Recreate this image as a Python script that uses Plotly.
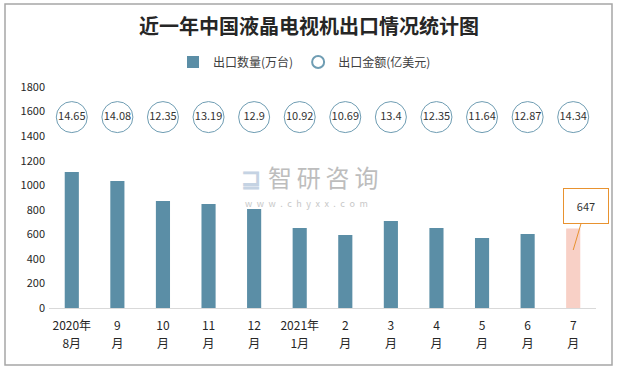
import plotly.graph_objects as go

months = ["2020年8月", "9月", "10月", "11月", "12月", "2021年1月",
          "2月", "3月", "4月", "5月", "6月", "7月"]
tick_line1 = ["2020年", "9", "10", "11", "12", "2021年", "2", "3", "4", "5", "6", "7"]
tick_line2 = ["8月", "月", "月", "月", "月", "1月", "月", "月", "月", "月", "月", "月"]
quantity = [1108, 1035, 872, 848, 806, 652, 594, 708, 652, 570, 602, 647]
amount = [14.65, 14.08, 12.35, 13.19, 12.9, 10.92, 10.69, 13.4, 12.35, 11.64, 12.87, 14.34]
y_ticks = [0, 200, 400, 600, 800, 1000, 1200, 1400, 1600, 1800]

BUBBLE_LEVEL = 1555
FONT = "Noto Sans CJK SC"
bar_colors = ["#5b8ea6"] * (len(months) - 1) + ["#f8d0c6"]

fig = go.Figure()
fig.add_trace(go.Bar(
    x=months, y=quantity, name="出口数量(万台)",
    marker=dict(color=bar_colors, line=dict(width=0)),
))
fig.add_trace(go.Scatter(
    x=months, y=[BUBBLE_LEVEL] * len(months), name="出口金额(亿美元)",
    mode="markers+text",
    text=[f"{v:g}" for v in amount],
    textposition="middle center",
    textfont=dict(size=11, color="#333333", family=FONT),
    marker=dict(size=31, color="white", line=dict(color="#6f9db3", width=1)),
))
# invisible carrier for the second tick-label line axis
fig.add_trace(go.Scatter(
    x=months, y=[None] * len(months), xaxis="x2", mode="markers",
    showlegend=False, hoverinfo="skip",
))

last = months[-1]
fig.add_annotation(
    x=last, y=quantity[-1] * 0.73, xref="x", yref="y",
    text="647", showarrow=True, arrowhead=0, arrowwidth=1, arrowcolor="#e8922f",
    ax=13, ay=-44, width=42, height=32,
    bordercolor="#e8922f", borderwidth=1, bgcolor="white",
    font=dict(size=11, color="#333333", family=FONT),
)

# watermark
fig.add_annotation(
    x=0.5, y=0.593, xref="paper", yref="paper", showarrow=False,
    text="智\u2009研\u2009咨\u2009询", font=dict(size=24, color="#bdbdbd", family=FONT),
    xanchor="center", yanchor="middle", xshift=0,
)
fig.add_annotation(
    x=0.5, y=0.475, xref="paper", yref="paper", showarrow=False,
    text="\u2002".join("www.chyxx.com"), font=dict(size=9, color="#c8c8c8", family=FONT),
    xanchor="center", yanchor="middle", xshift=-16,
)
fig.add_annotation(
    x=0.5, y=0.593, xref="paper", yref="paper", showarrow=False,
    text="<b>⊒</b>", font=dict(size=24, color="#c5d3e3", family=FONT),
    xanchor="center", yanchor="middle", xshift=-72,
)

# outer border
fig.add_shape(type="rect", xref="paper", yref="paper",
              x0=-44 / 547, x1=1 + 16 / 547, y0=-57 / 221, y1=1 + 83 / 221,
              line=dict(color="#a6a6a6", width=1.5), fillcolor="rgba(0,0,0,0)", layer="below")

tickfont = dict(size=12, color="#262626", family=FONT)
fig.update_layout(
    width=618, height=369,
    margin=dict(l=49, r=22, t=87, b=61, autoexpand=False),
    paper_bgcolor="white", plot_bgcolor="white",
    font=dict(family=FONT, color="#404040"),
    title=dict(text="<b>近一年中国液晶电视机出口情况统计图</b>", x=0.5, xanchor="center",
               y=1 - 27 / 369, yanchor="middle",
               font=dict(size=20, color="#262626", family=FONT)),
    showlegend=True,
    legend=dict(orientation="h", x=0.5 - 18 / 547, xanchor="center", y=1.113, yanchor="middle",
                font=dict(size=12, color="#404040", family=FONT),
                itemsizing="constant", itemwidth=30, bgcolor="rgba(0,0,0,0)"),
    bargap=0.69,
    xaxis=dict(showgrid=False, showline=True, linecolor="#d9d9d9", linewidth=1,
               ticks="", automargin=False, range=[-0.5, len(months) - 0.5],
               tickvals=months, ticktext=tick_line1,
               ticklabelstandoff=7, tickfont=tickfont),
    xaxis2=dict(overlaying="x", matches="x", anchor="y", side="bottom",
                showgrid=False, showline=False, zeroline=False, ticks="",
                automargin=False, tickvals=months, ticktext=tick_line2,
                ticklabelstandoff=27, tickfont=tickfont),
    yaxis=dict(range=[0, 1800], tickvals=y_ticks, showgrid=False, zeroline=False,
               showline=False, automargin=False, ticklabelstandoff=3,
               tickfont=dict(size=11, color="#262626", family=FONT)),
)

fig.write_html("out.html", post_script="document.body.style.margin='0';",
               config={"displayModeBar": False})
